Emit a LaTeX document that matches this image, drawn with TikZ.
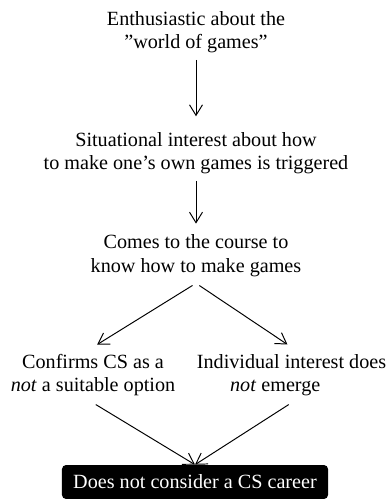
\documentclass[12pt,tikz,border=0pt]{standalone}
\usepackage{fontspec}
\setmainfont{Liberation Serif}
\usetikzlibrary{arrows.meta}

\begin{document}
\begin{tikzpicture}[x=0.615pt, y=-0.615pt,
  font=\fontsize{12.4pt}{14.5pt}\selectfont,
  txt/.style={align=center},
  arr/.style={-{Straight Barb[length=6.5pt,width=8pt]}, line width=0.6pt},
  endbox/.style={fill=black, text=white, rounded corners=2.5pt,
    minimum width=163.6pt, minimum height=20.9pt}]

\useasboundingbox (0,0) rectangle (386,500);

% steps
\node[txt] (enth) at (196,32) {Enthusiastic about the\\”world of games”};
\node[txt] (situ) at (196,153) {Situational interest about how\\to make one’s own games is triggered};
\node[txt] (course) at (196,255.5) {Comes to the course to\\know how to make games};
\node[txt] (confirm) at (93,375) {Confirms CS as a\\\textit{not} a suitable option};
\node[txt] (indiv) at (291.5,375) {Individual interest does\\\textit{not} emerge\hspace*{20pt}};
\node[endbox] (career) at (195,482) {Does not consider a CS career};

% arrows
\draw[arr, shorten >=5.5pt] (enth) -- (situ);
\draw[arr, shorten >=2.5pt] (situ) -- (course);
\draw[arr, shorten <=2.5pt, shorten >=3pt] (course.south) -- (confirm.north);
\draw[arr, shorten <=2.5pt, shorten >=3pt] (course.south) -- (indiv.north);
\draw[arr, shorten <=2pt] (confirm.south) -- (career.north);
\draw[arr, shorten <=2pt] (indiv.south) -- (career.north);

\end{tikzpicture}
\end{document}
